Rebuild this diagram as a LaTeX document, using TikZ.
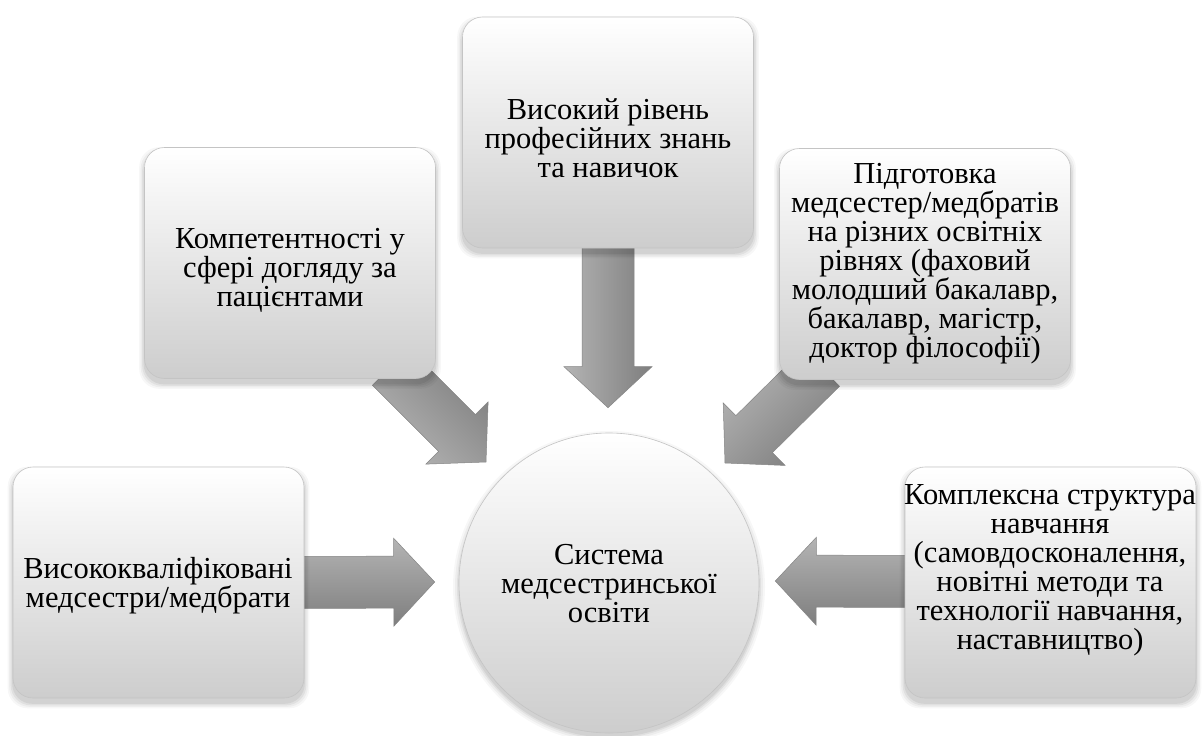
\documentclass[tikz,border=0pt]{standalone}
\usepackage{fontspec}
\setmainfont{Liberation Serif}
\newfontfamily\boxfont{Liberation Serif}
\usetikzlibrary{calc}
\pgfdeclarelayer{paper}
\pgfdeclarelayer{back}
\pgfdeclarelayer{shade}
\pgfsetlayers{paper,back,shade,main}

\definecolor{boxlow}{HTML}{CDCDCD}
\definecolor{boxedge}{HTML}{C4C4C4}
\definecolor{arrlight}{HTML}{B4B4B4}
\definecolor{arrmid}{HTML}{949494}
\definecolor{arrdark}{HTML}{7E7E7E}
\definecolor{arredge}{HTML}{858585}

% thick block arrow from #2 to the tip #3
\newcommand{\fatarrow}[3][]{%
  \coordinate (#2-#3-b) at ($(#3)!41pt!(#2)$);
  \path[arrowbody,#1]
    ($(#2)!26pt!90:(#3)$) -- ($(#2-#3-b)!26pt!-90:(#2)$) --
    ($(#2-#3-b)!44pt!-90:(#2)$) -- (#3) --
    ($(#2-#3-b)!44pt!90:(#2)$) -- ($(#2-#3-b)!26pt!90:(#2)$) --
    ($(#2)!26pt!-90:(#3)$) -- cycle;
}

\tikzset{
  txt/.style={align=center, font=\boxfont\fontsize{30.5}{29}\selectfont, inner sep=0pt},
  box/.style={draw=boxedge, line width=0.6pt, rounded corners=20pt,
    top color=white, bottom color=boxlow,
    minimum width=291pt, minimum height=231pt, inner sep=0pt},
  hub/.style={circle, draw=boxedge, line width=0.6pt,
    top color=white, bottom color=boxlow, minimum size=300pt, inner sep=0pt},
  arrowbody/.style={draw=arredge, line width=0.5pt, line join=miter,
    top color=arrlight, middle color=arrmid, bottom color=arrdark},
}

\begin{document}
\begin{tikzpicture}[x=1pt,y=-1pt]
\begin{pgfonlayer}{paper}
  \fill[white] (0,0) rectangle (1203,736);
\end{pgfonlayer}
\useasboundingbox (0,0) rectangle (1203,736);

% central circle and the five boxes
\node[hub] (c) at (609,583) {};
\node[box] (b1) at (158.5,582.5) {};
\node[box] (b2) at (290,263) {};
\node[box] (b3) at (608,132.5) {};
\node[box] (b4) at (925,264) {};
\node[box] (b5) at (1050.5,582.5) {};

% texts
\node[txt] (t0) at (609,584) {Система\\медсестринської\\освіти};
\node[txt] (t1) at (158,586) {Висококваліфіковані\\медсестри/медбрати};
\node[txt] (t2) at (290,270) {Компетентності у\\сфері догляду за\\пацієнтами};
\node[txt] (t3) at (608,138) {Високий рівень\\професійних знань\\та навичок};
\node[txt] (t4) at (925,264) {Підготовка\\медсестер/медбратів\\на різних освітніх\\рівнях (фаховий\\молодший бакалавр,\\бакалавр, магістр,\\доктор філософії)};
\node[txt] (t5) at (1050,570) {Комплексна структура\\навчання\\(самовдосконалення,\\новітні методи та\\технології навчання,\\наставництво)};

% arrow ends
\coordinate (s1) at ($(b1.east)+(-10,0)$);
\coordinate (e1) at ($(c.west)+(-24,-1)$);
\coordinate (s2) at ($(b2.south east)+(-45,-12)$);
\coordinate (e2) at (486,462);
\coordinate (s3) at ($(b3.south)+(0,-10)$);
\coordinate (e3) at ($(c.north)+(-1,-25)$);
\coordinate (s4) at ($(b4.south west)+(42,-12)$);
\coordinate (e4) at (725,463);
\coordinate (s5) at ($(b5.west)+(10,-1)$);
\coordinate (e5) at ($(c.east)+(16,-2)$);

\begin{pgfonlayer}{back}
  \fatarrow[shading angle=0]{s1}{e1}
  \fatarrow[shading angle=135]{s2}{e2}
  \fatarrow[shading angle=90]{s3}{e3}
  \fatarrow[shading angle=45]{s4}{e4}
  \fatarrow[shading angle=0]{s5}{e5}
\end{pgfonlayer}

\begin{pgfonlayer}{shade}
  % soft shadows under the circle and the boxes
  \foreach \r/\o in {156/0.03,154/0.04,152/0.05,150.5/0.06}
    \fill[black, opacity=\o] ($(c.center)+(0,4)$) circle (\r);
  \foreach \n in {b1,b2,b3,b4,b5}
    \foreach \e/\o in {5/0.03,3.5/0.04,2/0.05,0.5/0.06}
      \fill[black, opacity=\o, rounded corners=20pt]
        ($(\n.south west)+(-\e,5+\e)$) rectangle ($(\n.north east)+(\e,5-\e)$);
\end{pgfonlayer}
\end{tikzpicture}
\end{document}
